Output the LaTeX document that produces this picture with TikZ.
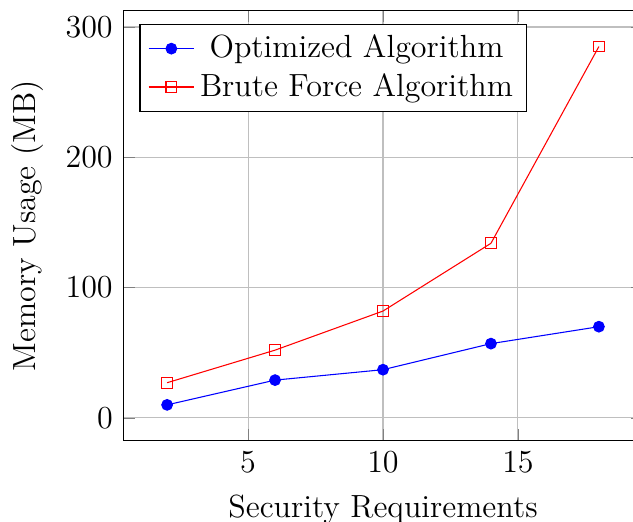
\documentclass[tikz,border=0pt,12pt]{standalone}
\usepackage{tikz}
\usepackage{pgfplots}
\pgfplotsset{compat=1.14}
\usepackage{xcolor}

\begin{document}
\begin{tikzpicture}
  \begin{axis}[name=memplot, scale only axis, width=194pt, height=161pt,
      xmin=0.4, xmax=19.6, ymin=-17.5, ymax=312.5,
      grid=major, xlabel={Security Requirements}, ylabel={Memory Usage (MB)},
      legend pos=north west]
    \addplot[blue, mark=*] coordinates {(2,10) (6,29) (10,37) (14,57) (18,70)};
    \addlegendentry{Optimized Algorithm}
    \addplot[red, mark=square] coordinates {(2,27) (6,52) (10,82) (14,134) (18,285)};
    \addlegendentry{Brute Force Algorithm}
  \end{axis}
  % crop the page round the axis
  \pgfresetboundingbox
  \useasboundingbox ([shift={(-46.4pt,-30.3pt)}]memplot.south west) rectangle ([shift={(-3.4pt,4pt)}]memplot.north east);
\end{tikzpicture}
\end{document}
